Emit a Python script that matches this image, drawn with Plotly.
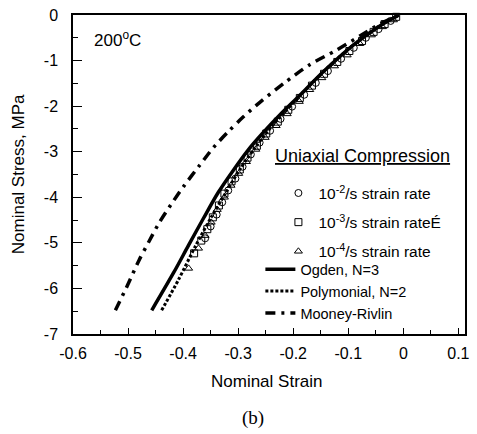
import plotly.graph_objects as go

# Test data: uniaxial compression at 200 C, three strain rates
strain_1e2 = [-0.360, -0.350, -0.339, -0.329, -0.318, -0.305, -0.292, -0.277, -0.261,
              -0.242, -0.223, -0.202, -0.180, -0.159, -0.137, -0.113, -0.090, -0.068,
              -0.045, -0.023, -0.004]
stress_1e2 = [-4.90, -4.64, -4.38, -4.11, -3.85, -3.59, -3.33, -3.06, -2.80,
              -2.54, -2.28, -2.01, -1.75, -1.49, -1.23, -0.96, -0.72, -0.50,
              -0.31, -0.13, 0.02]

strain_1e3 = [-0.380, -0.367, -0.356, -0.346, -0.335, -0.325, -0.312, -0.297, -0.283,
              -0.266, -0.249, -0.228, -0.209, -0.188, -0.166, -0.144, -0.120, -0.098,
              -0.075, -0.054, -0.034, -0.013, -0.004]
stress_1e3 = [-5.23, -4.95, -4.70, -4.44, -4.18, -3.92, -3.65, -3.39, -3.13,
              -2.87, -2.60, -2.34, -2.08, -1.82, -1.55, -1.29, -1.03, -0.79,
              -0.57, -0.37, -0.20, -0.04, 0.03]

strain_1e4 = [-0.390, -0.372, -0.360, -0.349, -0.338, -0.325, -0.313, -0.299, -0.285,
              -0.268, -0.251, -0.231, -0.211, -0.189, -0.170, -0.148, -0.125, -0.102,
              -0.079, -0.058, -0.038, -0.018]
stress_1e4 = [-5.56, -5.12, -4.84, -4.55, -4.27, -4.00, -3.74, -3.48, -3.22,
              -2.95, -2.69, -2.43, -2.17, -1.90, -1.64, -1.38, -1.12, -0.88,
              -0.63, -0.44, -0.26, -0.11]

# Hyperelastic model fits
strain_ogden = [-0.457, -0.417, -0.390, -0.363, -0.336, -0.309, -0.283, -0.256,
                -0.220, -0.193, -0.144, -0.091, -0.040, -0.008]
stress_ogden = [-6.48, -5.65, -5.05, -4.46, -3.89, -3.41, -2.98, -2.60,
                -2.14, -1.82, -1.23, -0.66, -0.22, 0.0]

strain_poly = [-0.439, -0.408, -0.378, -0.349, -0.322, -0.295, -0.268, -0.238,
               -0.193, -0.144, -0.091, -0.040, -0.008]
stress_poly = [-6.48, -5.80, -5.08, -4.44, -3.89, -3.35, -2.89, -2.43,
               -1.84, -1.23, -0.66, -0.22, 0.0]

strain_mr = [-0.523, -0.501, -0.480, -0.462, -0.444, -0.422, -0.399, -0.372, -0.345,
             -0.318, -0.292, -0.259, -0.216, -0.170, -0.121, -0.076, -0.040, -0.008]
stress_mr = [-6.48, -5.93, -5.38, -4.97, -4.57, -4.16, -3.76, -3.33, -2.91,
             -2.56, -2.25, -1.90, -1.49, -1.09, -0.77, -0.44, -0.18, 0.0]

x_ticks = [-0.6, -0.5, -0.4, -0.3, -0.2, -0.1, 0, 0.1]
x_ticklabels = ["-0.6", "-0.5", "-0.4", "-0.3", "-0.2", "-0.1", "0", "0.1"]
y_ticks = [0, -1, -2, -3, -4, -5, -6, -7]
y_ticklabels = ["0", "-1", "-2", "-3", "-4", "-5", "-6", "-7"]

FONT = "Liberation Sans, Arial, sans-serif"

fig = go.Figure()

marker_line = dict(color="black", width=1)
fig.add_trace(go.Scatter(
    x=strain_1e2, y=stress_1e2, mode="markers", cliponaxis=False,
    name="10<sup>-2</sup>/s strain rate", legend="legend", legendgroup="a",
    marker=dict(symbol="circle-open", size=7, color="black", line=marker_line)))
fig.add_trace(go.Scatter(
    x=strain_1e3, y=stress_1e3, mode="markers", cliponaxis=False,
    name="10<sup>-3</sup>/s strain rateÉ", legend="legend", legendgroup="b",
    marker=dict(symbol="square-open", size=7, color="black", line=marker_line)))
fig.add_trace(go.Scatter(
    x=strain_1e4, y=stress_1e4, mode="markers", cliponaxis=False,
    name="10<sup>-4</sup>/s strain rate", legend="legend", legendgroup="c",
    marker=dict(symbol="triangle-up-open", size=7, color="black", line=marker_line)))

fig.add_trace(go.Scatter(
    x=strain_ogden, y=stress_ogden, mode="lines", name="Ogden, N=3", legend="legend2",
    line=dict(color="black", width=3.5, shape="spline", smoothing=0.8)))
fig.add_trace(go.Scatter(
    x=strain_poly, y=stress_poly, mode="lines", name="Polymonial, N=2", legend="legend2",
    line=dict(color="black", width=3, dash="3px,2px", shape="spline", smoothing=0.8)))
fig.add_trace(go.Scatter(
    x=strain_mr, y=stress_mr, mode="lines", name="Mooney-Rivlin", legend="legend2",
    line=dict(color="black", width=3.5, dash="10px,6px,3px,6px", shape="spline", smoothing=0.8)))

axis_common = dict(
    showgrid=False, zeroline=False, showline=True, linecolor="black", linewidth=1.5,
    mirror=True, ticks="inside", tickcolor="black", tickwidth=1,
    tickfont=dict(family=FONT, size=16, color="black"),
)

fig.update_xaxes(
    range=[-0.6, 0.112], tickvals=x_ticks, ticktext=x_ticklabels, ticklen=6,
    ticklabelstandoff=4,
    minor=dict(ticks="inside", ticklen=4, tickcolor="black", dtick=0.05, tick0=-0.6),
    **axis_common)
fig.update_yaxes(
    range=[-7, 0], tickvals=y_ticks, ticktext=y_ticklabels, ticklen=9,
    ticklabelstandoff=10,
    minor=dict(ticks="inside", ticklen=5, tickcolor="black", dtick=0.5, tick0=0),
    **axis_common)

fig.update_layout(
    width=477, height=434,
    margin=dict(l=73, r=7, t=14, b=100),
    paper_bgcolor="white", plot_bgcolor="white",
    font=dict(family=FONT, color="black"),
    showlegend=True,
    legend=dict(
        x=0.524, y=0.494, xanchor="left", yanchor="top",
        bgcolor="rgba(0,0,0,0)", borderwidth=0,
        traceorder="grouped", tracegroupgap=6,
        font=dict(family=FONT, size=15.5, color="black"),
    ),
    legend2=dict(
        x=0.478, y=0.253, xanchor="left", yanchor="top",
        bgcolor="rgba(0,0,0,0)", borderwidth=0,
        font=dict(family=FONT, size=14.5, color="black"),
        itemwidth=30,
    ),
    annotations=[
        dict(text="Uniaxial Compression", xref="paper", yref="paper", x=0.509, y=0.559,
             xanchor="left", yanchor="middle", showarrow=False,
             font=dict(family=FONT, size=18, color="black", lineposition="under")),
        dict(text="200<sup>o</sup>C", xref="paper", yref="paper", x=0.113, y=0.925,
             xanchor="center", yanchor="middle",
             showarrow=False, font=dict(family=FONT, size=17, color="black")),
        dict(text="Nominal Strain", xref="paper", yref="paper", x=0.496, y=-0.15,
             xanchor="center", yanchor="middle",
             showarrow=False, font=dict(family=FONT, size=17, color="black")),
        dict(text="Nominal Stress, MPa", xref="paper", yref="paper", x=-0.1385, y=0.5,
             xanchor="center", yanchor="middle",
             textangle=-90, showarrow=False, font=dict(family=FONT, size=17, color="black")),
        dict(text="(b)", xref="paper", yref="paper", x=0.458, y=-0.2625,
             xanchor="center", yanchor="middle",
             showarrow=False, font=dict(family="Liberation Serif, Times New Roman, serif",
                                         size=19, color="black")),
    ],
)

fig.write_html("out.html")
